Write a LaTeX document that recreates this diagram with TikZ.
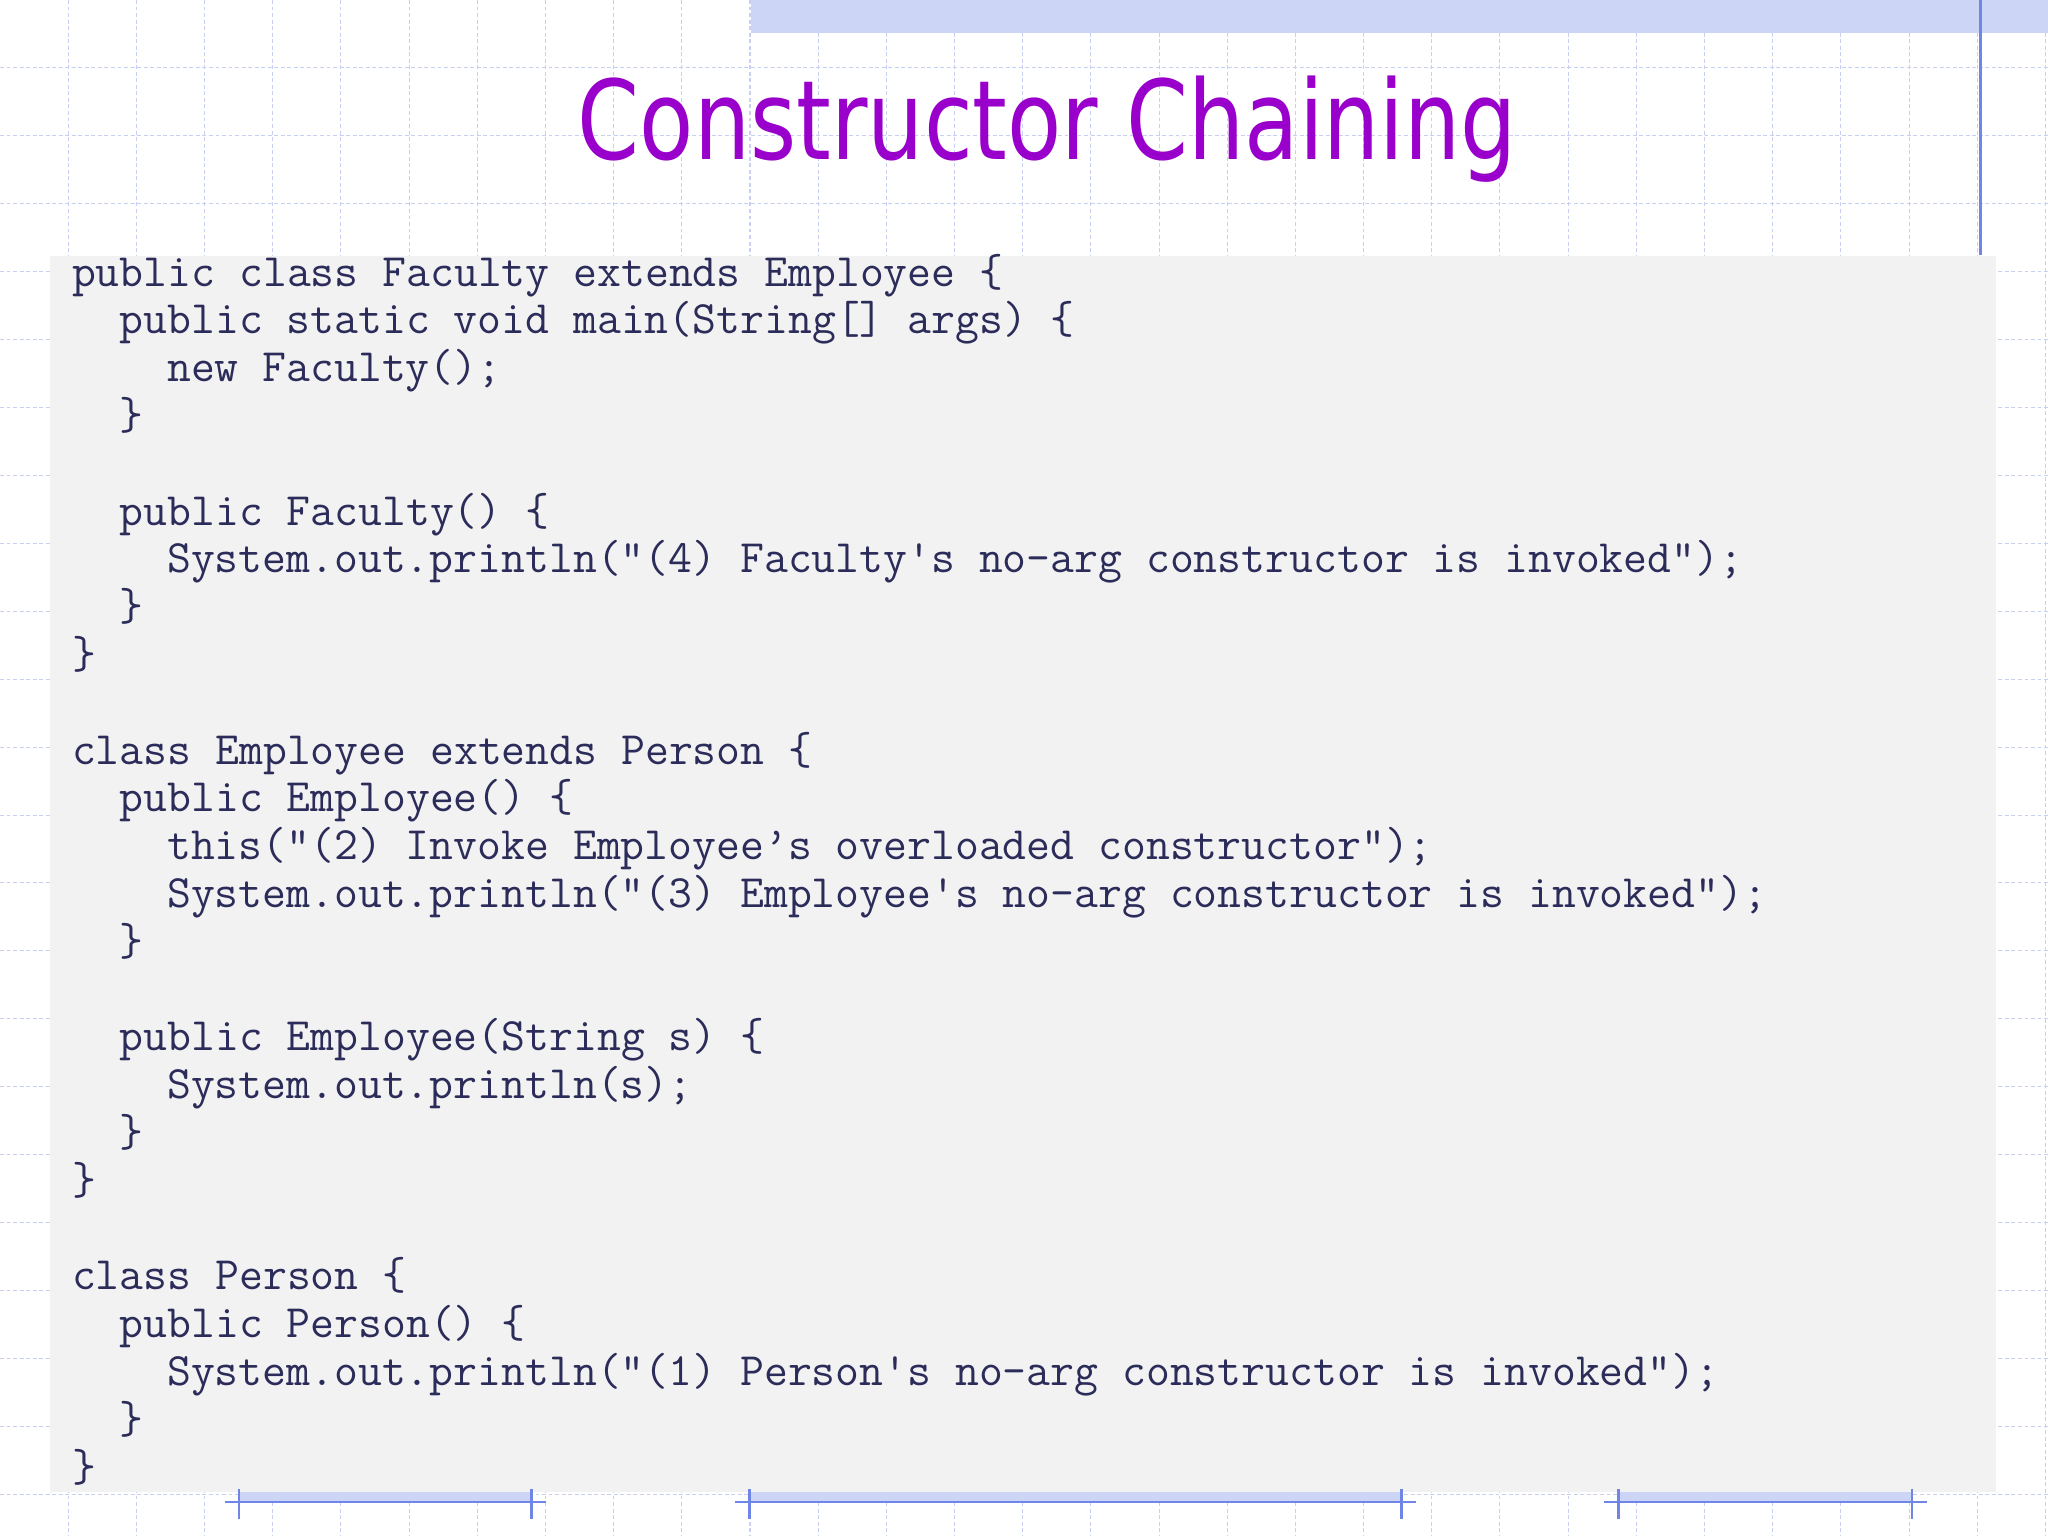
\documentclass[tikz,border=0pt]{standalone}
\usepackage{fontspec}
\setmainfont{DejaVu Sans}
\definecolor{gridc}{HTML}{C9CFF2}
\definecolor{bluel}{HTML}{6F86E6}
\definecolor{hatch}{HTML}{CDD5F7}
\definecolor{codebg}{HTML}{F2F2F2}
\definecolor{codec}{HTML}{2C2C5A}
\definecolor{titlec}{HTML}{9A00CC}
\tikzset{code/.style={anchor=base west,inner sep=0pt,text=codec,font=\ttfamily\fontsize{35.5}{35.5}\selectfont}}
\begin{document}
\begin{tikzpicture}[x=1pt,y=-1pt]
\useasboundingbox (0,0) rectangle (1568,1176);
\fill[white] (0,0) rectangle (1568,1176);
\foreach \i in {1,...,30} \draw[gridc,densely dashed,line width=0.8pt] (\i*52.2,0) -- (\i*52.2,1176);
\foreach \j in {1,...,22} \draw[gridc,densely dashed,line width=0.8pt] (0,\j*52) -- (1568,\j*52);
\fill[hatch] (575,0) rectangle (1568,25);
\draw[bluel,line width=2.4pt] (1516,0) -- (1516,195);
\fill[codebg] (38,196) rectangle (1528,1142);
\node[anchor=base,inner sep=0pt,text=titlec] (title) at (802,122) {\resizebox{719pt}{64pt}{\fontsize{82}{82}\selectfont Constructor Chaining}};
\foreach \k/\l/\t [count=\n from 0] in {
0/0/{public class Faculty extends Employee \{},
1/1/{public static void main(String[] args) \{},
2/2/{new Faculty();},
3/1/{\}},
5/1/{public Faculty() \{},
6/2/{System.out.println("(4) Faculty's no-arg constructor is invoked");},
7/1/{\}},
8/0/{\}},
10/0/{class Employee extends Person \{},
11/1/{public Employee() \{},
12/2/{this("(2) Invoke Employee’s overloaded constructor");},
13/2/{System.out.println("(3) Employee's no-arg constructor is invoked");},
14/1/{\}},
16/1/{public Employee(String s) \{},
17/2/{System.out.println(s);},
18/1/{\}},
19/0/{\}},
21/0/{class Person \{},
22/1/{public Person() \{},
23/2/{System.out.println("(1) Person's no-arg constructor is invoked");},
24/1/{\}},
25/0/{\}}}
  \node[code] (line\n) at (55+36.4*\l, 219+36.6*\k) {\t};
\foreach \a/\b in {172/418,563/1084,1228/1475}{
  \fill[hatch] (\a+11,1142) rectangle (\b-11,1150);
  \draw[bluel,line width=2pt] (\a,1150) -- (\b,1150);
  \draw[bluel,line width=2pt] (\a+11,1140) -- (\a+11,1163);
  \draw[bluel,line width=2pt] (\b-11,1140) -- (\b-11,1163);
}
\end{tikzpicture}
\end{document}
